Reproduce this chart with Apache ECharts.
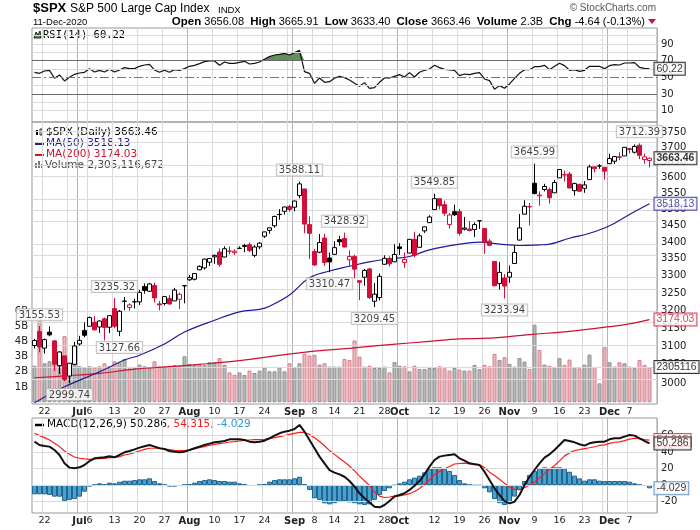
<!DOCTYPE html>
<html>
<head>
<meta charset="utf-8">
<title>$SPX Daily</title>
<script src="https://cdn.jsdelivr.net/npm/echarts@6/dist/echarts.min.js"></script>
<style>
  html, body { margin: 0; padding: 0; background: #fff; }
  #chart { width: 700px; height: 530px; }
</style>
</head>
<body>
<div id="chart"></div>
<script>
// trading days shown (MM-DD, 2020)
var dates = ['06-18','06-19','06-22','06-23','06-24','06-25','06-26','06-29','06-30',
  '07-01','07-02','07-06','07-07','07-08','07-09','07-10','07-13','07-14','07-15','07-16','07-17','07-20','07-21','07-22','07-23','07-24','07-27','07-28','07-29','07-30','07-31',
  '08-03','08-04','08-05','08-06','08-07','08-10','08-11','08-12','08-13','08-14','08-17','08-18','08-19','08-20','08-21','08-24','08-25','08-26','08-27','08-28','08-31',
  '09-01','09-02','09-03','09-04','09-08','09-09','09-10','09-11','09-14','09-15','09-16','09-17','09-18','09-21','09-22','09-23','09-24','09-25','09-28','09-29','09-30',
  '10-01','10-02','10-05','10-06','10-07','10-08','10-09','10-12','10-13','10-14','10-15','10-16','10-19','10-20','10-21','10-22','10-23','10-26','10-27','10-28','10-29','10-30',
  '11-02','11-03','11-04','11-05','11-06','11-09','11-10','11-11','11-12','11-13','11-16','11-17','11-18','11-19','11-20','11-23','11-24','11-25','11-27','11-30',
  '12-01','12-02','12-03','12-04','12-07','12-08','12-09','12-10','12-11'];

var opens = [3101.64,3140.29,3094.42,3138.70,3114.40,3046.60,3073.20,3018.59,3050.20,
  3105.92,3143.64,3155.29,3166.44,3153.07,3176.17,3152.47,3205.08,3141.11,3225.98,3208.36,3224.21,3224.29,3268.52,3254.86,3271.64,3218.58,3219.84,3234.27,3227.22,3231.76,3270.45,
  3288.26,3289.92,3317.37,3323.17,3340.05,3356.04,3370.34,3355.46,3372.95,3368.66,3380.86,3387.04,3392.51,3360.48,3386.01,3418.09,3435.95,3449.97,3485.14,3494.69,3509.73,
  3507.44,3543.76,3564.74,3453.60,3371.88,3369.82,3412.56,3352.70,3363.56,3407.73,3411.23,3346.86,3357.38,3285.57,3295.75,3320.11,3226.14,3236.66,3333.90,3350.92,3341.21,
  3385.87,3338.94,3367.27,3408.74,3384.56,3434.28,3459.67,3500.02,3534.01,3515.47,3453.72,3493.50,3493.66,3439.38,3439.91,3438.50,3464.90,3441.42,3403.15,3342.48,3277.17,3293.59,
  3296.20,3336.25,3406.46,3485.74,3508.34,3583.04,3543.26,3563.22,3562.67,3552.57,3600.16,3610.31,3612.09,3559.41,3579.31,3566.82,3594.52,3635.50,3638.55,3634.18,
  3645.87,3653.78,3668.28,3670.94,3694.73,3683.05,3705.98,3659.13,3656.08];
var highs = [3120.00,3155.53,3120.92,3154.90,3115.01,3086.25,3073.73,3053.89,3111.51,
  3128.44,3165.81,3182.59,3184.15,3171.80,3179.78,3186.82,3235.32,3200.95,3238.28,3220.39,3233.52,3258.61,3277.29,3279.32,3279.99,3227.26,3241.43,3243.72,3264.74,3250.92,3272.17,
  3302.73,3306.84,3330.77,3351.03,3352.54,3363.29,3381.01,3387.89,3387.24,3378.51,3387.59,3395.06,3399.54,3390.80,3399.96,3432.09,3444.21,3481.07,3501.38,3509.23,3514.77,
  3528.03,3588.11,3564.85,3479.15,3379.97,3424.77,3425.55,3368.95,3402.93,3419.48,3428.92,3375.17,3362.27,3285.57,3320.31,3323.35,3278.70,3306.88,3360.74,3357.92,3393.56,
  3397.18,3369.10,3409.57,3431.56,3426.26,3447.28,3482.34,3549.85,3534.01,3527.94,3489.08,3515.76,3502.42,3476.93,3464.86,3460.53,3466.46,3441.42,3409.51,3342.48,3341.05,3304.93,
  3330.14,3389.49,3486.25,3529.05,3520.76,3645.99,3557.22,3581.16,3569.02,3593.66,3628.51,3623.11,3619.09,3585.22,3581.23,3589.81,3642.31,3635.50,3644.31,3634.18,
  3678.45,3670.96,3682.73,3699.20,3697.41,3708.45,3712.39,3678.49,3665.91];
var lows = [3093.51,3083.11,3079.39,3127.12,3032.13,3024.01,3004.63,2999.74,3047.83,
  3101.17,3124.52,3155.29,3142.93,3136.53,3115.70,3136.22,3149.43,3127.66,3200.76,3198.59,3205.65,3215.16,3247.77,3253.10,3222.66,3200.05,3214.25,3216.17,3227.22,3204.13,3220.26,
  3284.53,3286.37,3317.37,3318.14,3328.72,3335.44,3326.44,3355.46,3363.35,3361.64,3379.22,3370.15,3369.66,3354.69,3379.31,3413.13,3425.84,3444.15,3468.35,3484.32,3493.25,
  3494.60,3535.23,3427.41,3349.63,3329.27,3366.84,3329.25,3310.47,3363.56,3389.25,3384.45,3328.82,3292.40,3229.10,3270.95,3232.57,3209.45,3228.44,3332.91,3327.54,3340.47,
  3361.39,3323.69,3367.27,3354.54,3384.56,3428.15,3458.07,3499.61,3500.86,3480.55,3440.89,3480.45,3419.93,3435.65,3433.06,3415.34,3440.45,3364.86,3388.71,3268.89,3259.82,3233.94,
  3279.74,3336.25,3405.17,3485.74,3450.86,3547.48,3511.91,3557.00,3518.58,3552.57,3600.16,3588.68,3567.33,3543.84,3556.85,3552.77,3594.52,3617.76,3629.33,3594.39,
  3645.87,3644.84,3657.17,3670.94,3678.88,3678.83,3660.54,3645.18,3633.40];
var closes = [3115.34,3097.74,3117.86,3131.29,3050.33,3083.76,3009.05,3053.24,3100.29,
  3115.86,3130.01,3179.72,3145.32,3169.94,3152.05,3185.04,3155.22,3197.52,3226.56,3215.57,3224.73,3251.84,3257.30,3276.02,3235.66,3215.63,3239.41,3218.44,3258.44,3246.22,3271.12,
  3294.61,3306.51,3327.77,3349.16,3351.28,3360.47,3333.69,3380.35,3373.43,3372.85,3381.99,3389.78,3374.85,3385.51,3397.16,3431.28,3443.62,3478.73,3484.55,3508.01,3500.31,
  3526.65,3580.84,3455.06,3426.96,3331.84,3398.96,3339.19,3340.97,3383.54,3401.20,3385.49,3357.01,3319.47,3281.06,3315.57,3236.92,3246.59,3298.46,3351.60,3335.47,3363.00,
  3380.80,3348.42,3408.60,3360.97,3419.44,3446.83,3477.14,3534.22,3511.93,3488.67,3483.34,3483.81,3426.92,3443.12,3435.56,3453.49,3465.39,3400.97,3390.68,3271.03,3310.11,3269.96,
  3310.24,3369.16,3443.44,3510.45,3509.44,3550.50,3545.53,3572.66,3537.01,3585.15,3626.91,3609.53,3567.79,3581.87,3557.54,3577.59,3635.41,3629.65,3638.35,3621.63,
  3662.45,3669.01,3666.72,3699.12,3691.96,3702.25,3672.82,3668.10,3663.46];
var prevClose0 = 3113.49;   // close of the day before the first bar

// volume, billions
var volumes = [2.4,5.54,2.56,2.69,4.06,3.33,4.35,2.47,2.78,
  2.36,2.3,2.36,2.3,2.36,2.56,2.36,2.69,2.63,2.85,2.23,2.3,2.47,2.36,2.3,2.69,2.36,2.36,2.4,2.45,2.4,3.02,
  2.52,2.45,2.52,2.45,2.63,2.63,2.91,2.45,1.96,1.8,1.96,1.79,2.08,1.92,2.08,2.3,2.03,2.03,2.3,2.03,2.56,
  2.3,2.56,3.18,3.07,3.11,2.47,2.56,2.34,2.34,2.34,2.85,2.78,4.06,3.0,2.34,2.4,2.25,2.25,2.34,1.96,2.63,
  2.4,2.36,2.03,2.4,2.18,2.18,2.25,2.25,2.36,2.23,2.08,2.25,2.14,2.08,2.08,2.45,2.18,2.45,2.36,3.18,2.78,2.96,
  2.52,2.34,2.91,2.67,2.18,5.1,3.44,2.47,2.4,2.3,2.89,2.45,2.8,2.3,2.23,2.47,3.13,2.3,1.24,3.62,
  2.63,2.34,2.63,2.56,2.34,2.25,2.78,2.45,2.31];

var rsi = [56,54.8,57.6,58.4,48.8,52.8,45.6,50,53.6,
  55.2,56,60.4,56.4,58.4,56.4,59.6,56.4,58.8,61.6,60.4,60.4,63.2,64.8,65.6,58.8,56,58.4,56,59.2,58.4,60.4,
  63.2,64.4,66.4,68.8,69.6,69.6,64.4,68.4,66.8,66.8,68,69.2,66,66.8,68.4,71.6,74.8,76.8,77.6,78.8,76.8,
  79.6,82.4,56.8,54.8,42.8,49.2,44,44.8,48.8,51.2,49.6,46.8,42.8,39.2,43.6,36.8,37.6,44,49.2,49.2,51.2,
  53.2,50.4,55.6,50.4,56,58.4,60,64.4,61.6,59.6,58.8,58.4,52,54,53.2,54.8,55.6,48,46,35.6,40,36.8,
  42,48.8,54.8,59.2,59.2,62.8,62.8,64.4,59.2,63.2,66.8,64,58.4,59.2,57.2,58.4,63.2,63.2,63.2,60.4,
  64,65.2,64.8,67.2,67.2,67.6,62,60.8,60.22];

var macd = [52.4,48.4,47.2,46.4,42.3,36.3,26.2,21,20.2,
  21.4,24.2,29,32.3,33,33.5,34.7,33.5,36.3,39.5,41.1,43.1,45.2,46.8,48.4,46.4,44.4,43.5,41.1,40.3,39.5,40.3,
  42.3,44.4,46.4,48.4,50,51.6,52.4,53.2,55.2,55.2,55.2,54.4,52.4,51.6,52.4,53.6,56.5,59.7,62.5,64.5,65.7,
  67.7,72.6,64.5,54.4,44.4,34.3,26.2,18,15,12.8,10,4.8,-2,-10,-16,-21,-26.2,-27,-24.2,-19.4,-14,
  -12.1,-10,-6,-0.8,4.8,12.9,22.2,30.2,34.3,35.5,36.3,37.1,32.3,29.4,26.2,25,24.2,16.1,6,-4,-12.1,-19.4,
  -22.2,-20.2,-12.1,0,10,18.1,26.2,33,37.1,42.3,48.4,54.4,53.2,51.6,49.2,47.6,50.4,51.6,52.4,52.4,
  55.2,56.5,56.5,58.5,60.5,59.7,56.5,53.2,50.286];
var signal = [62.5,59.7,57.3,54.4,50.4,46.4,41.1,37.1,33.9,
  32.3,31.5,31,31.5,31.9,32.3,33,33.5,34.3,36.3,37.5,39.1,41.1,43.1,44.4,44.4,44.4,43.5,42.7,41.9,41.5,41.5,
  42.3,43.5,45.2,46.4,48,49.2,50,50.8,52,52.4,53.2,54,54.4,54.8,54.8,55.2,56,57.3,58.5,59.7,61.3,
  62.5,63.7,63.7,61,57,52.5,47.5,41.6,37,32.4,27.8,23,17,10.8,5.1,-0.8,-8.5,-13.5,-15.1,-14.5,-13.5,
  -13.1,-12,-10.5,-7.9,-4.3,0.8,6,12.5,16.5,19.7,22.3,25.4,26,26.4,25.6,25.4,24.6,21.2,15.5,11.5,7,2,
  -2.6,-5.5,-5.5,-3.4,0,3.5,8.6,13.8,19,23.5,29.2,35.2,38.8,41.7,42.8,44,45,46.2,47.8,48.5,
  50.4,51.7,52.1,53.7,55.4,56.5,56,54.8,54.315];
var hist = [-11.3,-11.3,-11.3,-12.1,-14.1,-14.1,-19.4,-18.1,-17,
  -14.1,-8.1,-2,0,2,0.8,2.8,2,4,5.2,5.2,6,6.9,6.9,8.1,4.8,2,0,-2,-2,-1.2,0,
  1.2,2.8,4.8,6,6.9,6,4.8,4.8,4,4,2,0.8,-1.2,-1.2,0,1.2,4,6,6.9,6.9,6.9,
  8.1,10,0.8,-6,-16.1,-18.1,-22.2,-23.4,-22,-20,-19.4,-21,-22,-23.4,-24.2,-23.4,-18,-12,-7.3,-4,-0.8,
  2,4,6.9,8.9,11.3,15.3,20.2,21.4,21.4,20.2,17,12.1,6,2,0,-0.8,-0.8,-4,-8.9,-17,-22,-24.2,
  -21,-14,-6,4.8,12.1,17,20.2,21.4,20.2,21.4,21.4,20.2,16,11.3,8,5.2,6.9,6.9,5.2,4.8,
  4.8,4.8,4.8,4.8,4,2,0,-1.2,-4.029];

// moving averages read at points along the lines: [bar index, value]
var ma50Pts = [[0,2948],[6,2990],[13,3030],[18,3062],[21,3075],[26,3106],[30,3139],[36,3172],[41,3196],
  [45,3203],[47,3212],[51,3244],[55,3294],[59,3314],[63,3328],[67,3341],[71,3350],[75,3357],[79,3377],
  [85,3394],[89,3400],[93,3394],[97,3390],[101,3392],[103,3394],[107,3412],[111,3427],[115,3450],[119,3485],[123,3518.13]];
var ma200Pts = [[0,3014],[6,3019],[13,3026],[20,3037],[27,3044],[33,3050],[41,3060],[47,3071],[55,3085],
  [63,3094],[71,3104],[79,3113],[85,3120],[91,3122],[99,3132],[107,3141],[115,3154],[119,3162],[123,3174.03]];

// x axis ticks
var tickIdx  = [2,9,11,16,21,26,31,36,41,46,52,56,60,65,70,73,80,85,90,95,100,105,110,115,119];
var tickText = ['22','Jul','6','13','20','27','Aug','10','17','24','Sep','8','14','21','28','Oct','12','19','26','Nov','9','16','23','Dec','7'];
var weekIdx  = [2,7,11,16,21,26,31,36,41,46,51,56,60,65,70,75,80,85,90,95,100,105,110,114,119];
var monthIdx = [9,31,52,73,95,115];

// y axis ticks
var priceTicks  = [3000,3050,3100,3150,3200,3250,3300,3350,3400,3450,3500,3550,3600,3650,3700,3750];
var volTicks    = [1,2,3,4,5,6];
var rsiGrid     = [10,20,40,60,80,90,100];
var rsiLabels   = [10,30,50,70,90];
var macdTicks   = [-20,0,20,40,60];

// labelled swing highs / lows (bar index)
var peakIdx   = [1,16,53,62,80,100,121];
var troughIdx = [7,17,59,68,94];

var L = Math.log;
var RED = '#d0103a', NAVY = '#1c1c94', CRIMSON = '#cc1133';
var FONT = 'DejaVu Sans';
var GRIDC = '#dadada';
var last = closes.length - 1;

var candleData = closes.map(function (c, i) {
    var prev = i ? closes[i - 1] : prevClose0;
    var col = c >= prev ? '#000' : RED;
    var fill = c >= opens[i] ? '#fff' : col;
    return {
        value: [L(opens[i]), L(c), L(lows[i]), L(highs[i])],
        itemStyle: {color: fill, color0: fill, borderColor: col, borderColor0: col, borderColorDoji: col}
    };
});
var volData = volumes.map(function (v, i) {
    var prev = i ? closes[i - 1] : prevClose0;
    var up = closes[i] >= prev;
    return {
        value: v,
        itemStyle: up ? {color: '#b9b9b9', borderColor: '#8e8e8e'} : {color: '#ebb9bf', borderColor: '#d57f8b'}
    };
});

function xAxisFor(grid, labels) {
    return {
        type: 'category', gridIndex: grid, data: dates, max: dates.length, boundaryGap: true,
        axisLine: {show: false}, axisTick: {show: false},
        axisLabel: {
            show: labels, margin: 3, fontSize: 9.5, fontFamily: FONT, color: '#222',
            interval: function (i) { return tickIdx.indexOf(i) >= 0; },
            formatter: function (v, i) {
                var k = tickIdx.indexOf(i);
                if (k < 0) return '';
                var t = tickText[k];
                return /^[A-Z]/.test(t) ? '{m|' + t + '}' : t;
            },
            rich: {m: {fontWeight: 'bold', fontSize: 10, fontFamily: FONT, color: '#222'}}
        },
        splitLine: {show: true, interval: function (i) { return weekIdx.indexOf(i) >= 0; },
            lineStyle: {color: GRIDC, width: 1}}
    };
}
function monthAxisFor(grid) {
    return {
        type: 'category', gridIndex: grid, data: dates, max: dates.length, boundaryGap: true,
        axisLine: {show: false}, axisTick: {show: false}, axisLabel: {show: false},
        splitLine: {show: true, interval: function (i) { return monthIdx.indexOf(i) >= 0; },
            lineStyle: {color: '#b3b3b3', width: 1}}
    };
}
// horizontal grid lines, drawn under everything else of the panel
function hGrid(xi, yi, values) {
    return {
        type: 'line', xAxisIndex: xi, yAxisIndex: yi, data: [], silent: true, z: 1,
        markLine: {
            silent: true, symbol: 'none', label: {show: false}, animation: false,
            lineStyle: {color: GRIDC, width: 1, type: 'solid'},
            data: values.map(function (v) { return {yAxis: v}; })
        }
    };
}
function tagLabel(text, border, color, bold) {
    return {
        show: true, position: 'right', distance: 5, formatter: text,
        color: color, fontSize: 10.5, fontFamily: 'Liberation Sans', fontWeight: bold ? 'bold' : 'normal',
        backgroundColor: '#fff', borderColor: border, borderWidth: 1, padding: [1, 2, 0, 2]
    };
}
function tag(xi, yi, val, text, border, color, bold, z) {
    return {
        type: 'scatter', xAxisIndex: xi, yAxisIndex: yi, symbolSize: 0, silent: true, z: z || 20,
        data: [[last, val]], label: tagLabel(text, border, color, bold)
    };
}
function extremeLabels(idx, arr, pos) {
    return {
        type: 'scatter', xAxisIndex: 2, yAxisIndex: 1, symbolSize: 0, silent: true, z: 15,
        data: idx.map(function (i) { return [i, L(arr[i])]; }),
        label: {
            show: true, position: pos, distance: 6,
            formatter: function (p) { return arr[p.data[0]].toFixed(2); },
            color: '#111', fontSize: 10, fontFamily: FONT,
            backgroundColor: '#fff', borderColor: '#b5b5b5', borderWidth: 1, padding: [1, 2, 0, 2]
        }
    };
}

var chart = echarts.init(document.getElementById('chart'));
var option = {
    animation: false,
    backgroundColor: '#fff',
    grid: [
        {left: 32, right: 43, top: 28, height: 94, show: true, borderColor: '#999', borderWidth: 1},
        {left: 32, right: 43, top: 122, height: 282, show: true, borderColor: '#999', borderWidth: 1},
        {left: 32, right: 43, top: 418, height: 95, show: true, borderColor: '#999', borderWidth: 1}
    ],
    xAxis: [xAxisFor(0, false), monthAxisFor(0), xAxisFor(1, true), monthAxisFor(1), xAxisFor(2, true), monthAxisFor(2)],
    yAxis: [
        {   // RSI
            type: 'value', gridIndex: 0, position: 'right', min: -3.66, max: 109.2,
            axisLine: {show: false}, axisTick: {show: false},
            axisLabel: {customValues: rsiLabels, margin: 4, fontSize: 10, fontFamily: FONT, color: '#222'},
            splitLine: {show: false}
        },
        {   // price, log scale
            type: 'value', gridIndex: 1, position: 'right', min: L(2944.5), max: L(3783.4),
            axisLine: {show: false}, axisTick: {show: false},
            axisLabel: {customValues: priceTicks.map(L), margin: 4, fontSize: 10, fontFamily: FONT, color: '#222',
                formatter: function (v) { return Math.round(Math.exp(v)); }},
            splitLine: {show: false}
        },
        {   // volume
            type: 'value', gridIndex: 1, position: 'left', min: -0.118, max: 18.43,
            axisLine: {show: false}, axisTick: {show: false},
            axisLabel: {customValues: volTicks, margin: 4, fontSize: 10, fontFamily: FONT, color: '#222',
                formatter: function (v) { return v + 'B'; }},
            splitLine: {show: false}
        },
        {   // MACD
            type: 'value', gridIndex: 2, position: 'right', min: -33.86, max: 81,
            axisLine: {show: false}, axisTick: {show: false},
            axisLabel: {customValues: macdTicks, margin: 4, fontSize: 10, fontFamily: FONT, color: '#222'},
            splitLine: {show: false}
        }
    ],
    series: [
        hGrid(0, 0, rsiGrid),
        hGrid(2, 1, priceTicks.map(L)),
        hGrid(4, 3, macdTicks),
        {
            name: 'RSI fill', type: 'line', xAxisIndex: 0, yAxisIndex: 0, silent: true, z: 3,
            data: rsi.map(function (v) { return Math.max(v, 70); }),
            showSymbol: false, lineStyle: {opacity: 0},
            areaStyle: {origin: 70, color: '#62905b', opacity: 1}
        },
        {
            name: 'RSI(14)', type: 'line', xAxisIndex: 0, yAxisIndex: 0, data: rsi, z: 4,
            showSymbol: false, lineStyle: {color: '#111', width: 1.2},
            markLine: {
                silent: true, symbol: 'none', label: {show: false},
                data: [
                    {yAxis: 70, lineStyle: {color: '#6a6a6a', width: 1.2, type: 'solid'}},
                    {yAxis: 30, lineStyle: {color: '#6a6a6a', width: 1.2, type: 'solid'}},
                    {yAxis: 50, lineStyle: {color: '#777', width: 1, type: [9, 3, 2, 3]}}
                ]
            }
        },
        {
            name: 'Volume', type: 'bar', xAxisIndex: 2, yAxisIndex: 2, data: volData,
            barWidth: '80%', itemStyle: {borderWidth: 1}, z: 2
        },
        {
            name: 'MA(200)', type: 'line', xAxisIndex: 2, yAxisIndex: 1, z: 5,
            data: ma200Pts.map(function (p) { return [p[0], L(p[1])]; }),
            smooth: 0.4, showSymbol: false, lineStyle: {color: CRIMSON, width: 1.2}
        },
        {
            name: 'MA(50)', type: 'line', xAxisIndex: 2, yAxisIndex: 1, z: 5,
            data: ma50Pts.map(function (p) { return [p[0], L(p[1])]; }),
            smooth: 0.4, showSymbol: false, lineStyle: {color: NAVY, width: 1.2}
        },
        {
            name: '$SPX', type: 'candlestick', xAxisIndex: 2, yAxisIndex: 1, data: candleData,
            barWidth: '72%', z: 6, itemStyle: {borderWidth: 1}
        },
        extremeLabels(peakIdx, highs, 'top'),
        extremeLabels(troughIdx, lows, 'bottom'),
        {
            name: 'MACD hist', type: 'bar', xAxisIndex: 4, yAxisIndex: 3, data: hist,
            barCategoryGap: '0%', itemStyle: {color: '#4ea0cc', borderColor: '#1f6690', borderWidth: 1}, z: 2
        },
        {
            name: 'Signal', type: 'line', xAxisIndex: 4, yAxisIndex: 3, data: signal, z: 4,
            showSymbol: false, lineStyle: {color: '#ff1a1a', width: 1.2}
        },
        {
            name: 'MACD', type: 'line', xAxisIndex: 4, yAxisIndex: 3, data: macd, z: 5,
            showSymbol: false, lineStyle: {color: '#111', width: 2}
        },
        tag(0, 0, rsi[last], rsi[last].toFixed(2), '#000', '#000', false),
        tag(2, 1, L(closes[last]), closes[last].toFixed(2), '#000', '#000', true, 22),
        tag(2, 1, L(ma50Pts[ma50Pts.length - 1][1]), ma50Pts[ma50Pts.length - 1][1].toFixed(2), NAVY, NAVY, false),
        tag(2, 1, L(ma200Pts[ma200Pts.length - 1][1]), ma200Pts[ma200Pts.length - 1][1].toFixed(2), CRIMSON, CRIMSON, false),
        {
            type: 'scatter', xAxisIndex: 2, yAxisIndex: 2, symbolSize: 0, silent: true, z: 20,
            data: [[last, volumes[last]]],
            label: tagLabel('2305116', '#000', '#000', false)
        },
        tag(4, 3, signal[last], signal[last].toFixed(3), '#ff1a1a', '#ff1a1a', false, 20),
        tag(4, 3, macd[last], macd[last].toFixed(3), '#000', '#000', false, 21),
        tag(4, 3, hist[last], hist[last].toFixed(3), '#4a7fc0', '#000', false, 21)
    ],
    graphic: [
        // header
        {type: 'text', left: 33, top: 2, style: {text: '$SPX', font: 'bold 13px "Liberation Sans"', fill: '#000'}},
        {type: 'text', left: 70, top: 3, style: {text: 'S&P 500 Large Cap Index', font: '12px "Liberation Sans"', fill: '#000'}},
        {type: 'text', left: 218, top: 5, style: {text: 'INDX', font: '9.5px "Liberation Sans"', fill: '#000'}},
        {type: 'text', left: 33, top: 17, style: {text: '11-Dec-2020', font: '9.5px "Liberation Sans"', fill: '#000'}},
        {type: 'text', right: 44, top: 3, style: {text: '\u00a9 StockCharts.com', font: '10px "Liberation Sans"', fill: '#555'}},
        {
            type: 'text', right: 55, top: 16,
            style: {
                text: '{b|Open} 3656.08  {b|High} 3665.91  {b|Low} 3633.40  {b|Close} 3663.46  {b|Volume} 2.3B  {b|Chg} -4.64 (-0.13%)',
                font: '11px "Liberation Sans"', fill: '#000',
                rich: {b: {font: 'bold 11.5px "Liberation Sans"', fill: '#000'}}
            }
        },
        {type: 'polygon', shape: {points: [[648, 19], [656, 19], [652, 24]]}, style: {fill: RED}},
        // RSI legend
        {type: 'polygon', shape: {points: [[34, 38], [36, 32], [38, 35], [40, 31], [41, 38]]}, style: {fill: '#62905b', stroke: '#000', lineWidth: 0.8}},
        {type: 'text', left: 43, top: 30, style: {text: 'RSI(14) 60.22', font: '10.5px "DejaVu Sans Mono"', fill: '#000'}},
        // price legend
        {type: 'rect', shape: {x: 36, y: 130, width: 2, height: 5}, style: {fill: '#000'}},
        {type: 'rect', shape: {x: 40, y: 129, width: 2, height: 6}, style: {fill: '#fff', stroke: '#000', lineWidth: 0.8}},
        {type: 'text', left: 46, top: 127, style: {text: '$SPX (Daily) 3663.46', font: '10.5px "DejaVu Sans"', fill: '#000'}},
        {type: 'line', shape: {x1: 35, y1: 144, x2: 44, y2: 144}, style: {stroke: NAVY, lineWidth: 2}},
        {type: 'text', left: 46, top: 138, style: {text: 'MA(50) 3518.13', font: '10.5px "DejaVu Sans"', fill: NAVY}},
        {type: 'line', shape: {x1: 35, y1: 155, x2: 44, y2: 155}, style: {stroke: CRIMSON, lineWidth: 2}},
        {type: 'text', left: 46, top: 149, style: {text: 'MA(200) 3174.03', font: '10.5px "DejaVu Sans"', fill: CRIMSON}},
        {type: 'rect', shape: {x: 35, y: 163, width: 2, height: 5}, style: {fill: '#777'}},
        {type: 'rect', shape: {x: 38, y: 161, width: 2, height: 7}, style: {fill: '#777'}},
        {type: 'rect', shape: {x: 41, y: 164, width: 2, height: 4}, style: {fill: '#777'}},
        {type: 'text', left: 45, top: 160, style: {text: 'Volume 2,305,116,672', font: '10.5px "DejaVu Sans"', fill: '#444'}},
        // MACD legend
        {type: 'line', shape: {x1: 35, y1: 425, x2: 44, y2: 425}, style: {stroke: '#000', lineWidth: 2.5}},
        {
            type: 'text', left: 47, top: 419,
            style: {
                text: 'MACD(12,26,9) 50.286{r|, 54.315}{c|, -4.029}',
                font: '10.5px "DejaVu Sans"', fill: '#000',
                rich: {r: {font: '10.5px "DejaVu Sans"', fill: '#ff1a1a'}, c: {font: '10.5px "DejaVu Sans"', fill: '#3399cc'}}
            }
        }
    ]
};
chart.setOption(option);
</script>
</body>
</html>
